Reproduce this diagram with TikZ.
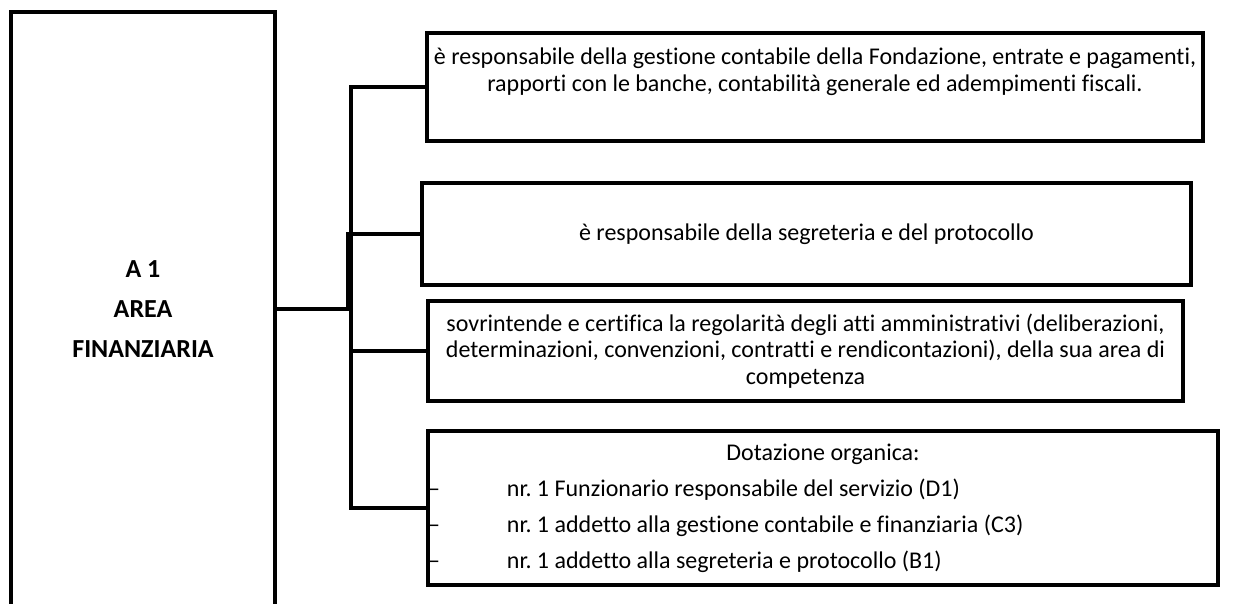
\documentclass[tikz,border=0pt]{standalone}
\usepackage{fontspec}
\setmainfont{Carlito}[Ligatures=NoCommon]
\usetikzlibrary{calc, positioning}
\frenchspacing

\begin{document}
\begin{tikzpicture}[x=1pt, y=-1pt]%{{{
        \useasboundingbox (0, 0) rectangle (1239, 603);
        \clip (0, 0) rectangle (1239, 603);

        \tikzstyle{b} = [draw, line width=4.5pt, inner sep=0pt, outer sep=0pt, align=center, font=\fontsize{24}{26.7}\selectfont];
        \tikzstyle{l} = [draw, line width=4pt];

        \node [b, minimum width=264pt, minimum height=594pt, font=\fontsize{26}{40}\selectfont\bfseries] (area) at (143, 309) {A 1\\AREA\\FINANZIARIA};

        \node [b, minimum width=776pt, minimum height=108pt] (resp) at (815, 87)
            {è responsabile della gestione contabile della Fondazione, entrate e pagamenti,\\rapporti con le banche, contabilità generale ed adempimenti fiscali.\\\strut};
        \node [b, minimum width=769pt, minimum height=102pt] (segr) at (806.5, 234)
            {è responsabile della segreteria e del protocollo};
        \node [b, minimum width=755pt, minimum height=100pt] (atti) at (805.5, 351)
            {sovrintende e certifica la regolarità degli atti amministrativi (deliberazioni,\\determinazioni, convenzioni, contratti e rendicontazioni), della sua area di\\competenza};
        \node [b, minimum width=790pt, minimum height=154pt, align=left, font=\fontsize{24}{36}\selectfont] (dot) at (823, 508)
            {\makebox[790pt]{Dotazione organica:}\\
             –\hspace{67pt}nr. 1 Funzionario responsabile del servizio (D1)\\
             –\hspace{67pt}nr. 1 addetto alla gestione contabile e finanziaria (C3)\\
             –\hspace{67pt}nr. 1 addetto alla segreteria e protocollo (B1)};

        \coordinate (J) at ($(area.east) + (73, 0)$);
        \coordinate (S) at ($(resp.west) + (-76, 0)$);

        \draw [l] (area.east) -- (J) |- (segr.west);
        \draw [l] (resp.west) -- (S) -- (S |- dot.west) -- (dot.west);
        \draw [l] (S |- atti.west) -- (atti.west);
    \end{tikzpicture}
\end{document}
